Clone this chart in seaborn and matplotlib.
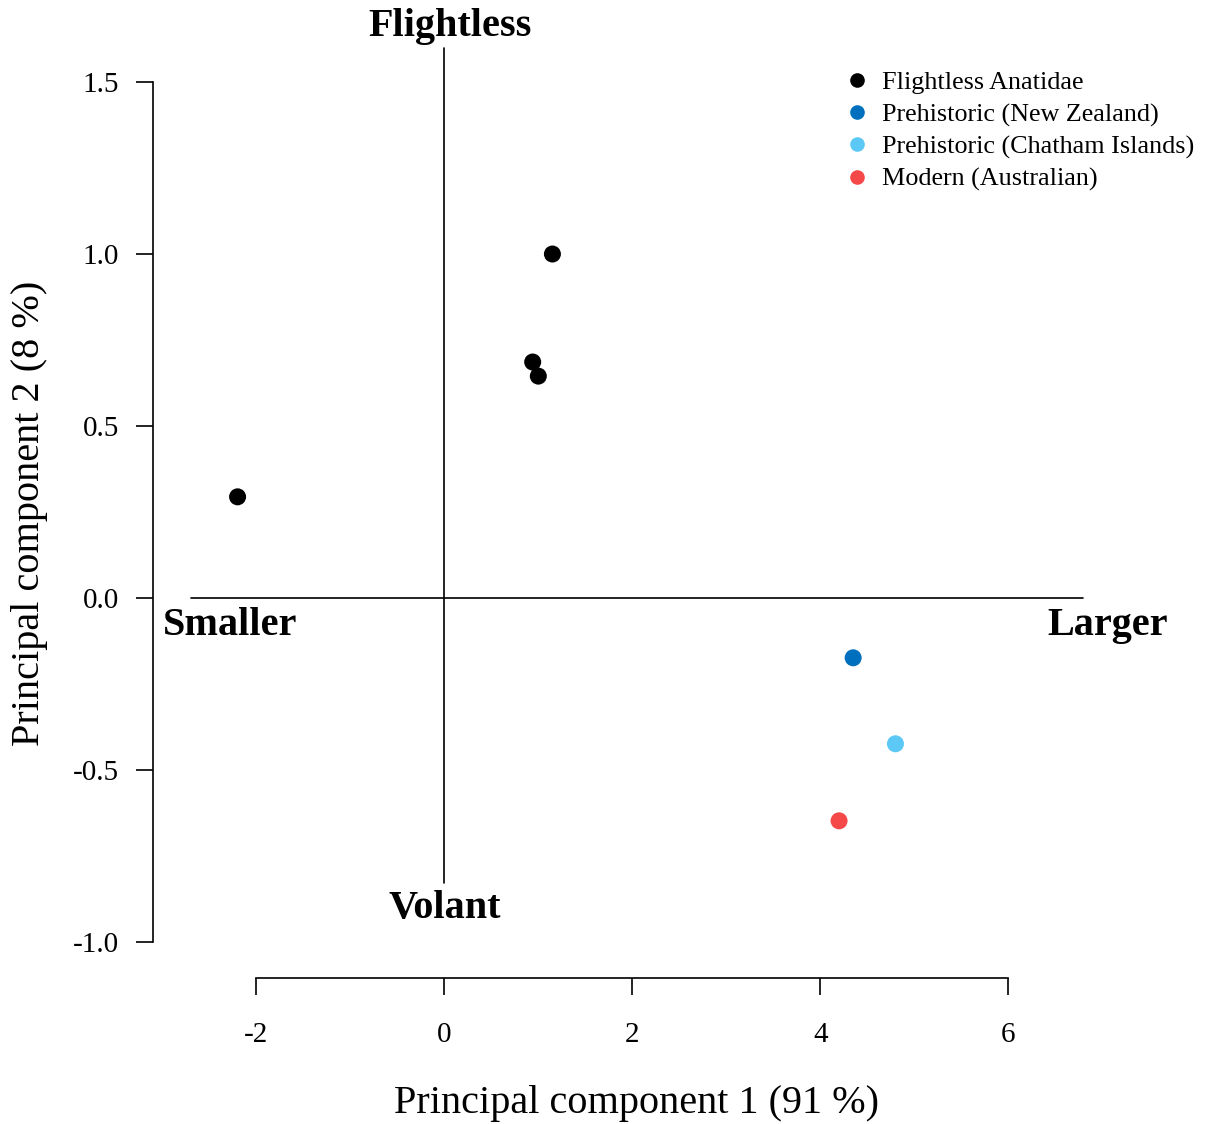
import matplotlib
matplotlib.use("Agg")
import matplotlib.pyplot as plt
import pandas as pd
import seaborn as sns

# data
groups = ["Flightless Anatidae", "Flightless Anatidae", "Flightless Anatidae",
          "Flightless Anatidae", "Prehistoric (New Zealand)",
          "Prehistoric (Chatham Islands)", "Modern (Australian)"]
pc1 = [-2.20, 1.15, 0.94, 1.00, 4.35, 4.80, 4.20]
pc2 = [0.294, 1.00, 0.686, 0.645, -0.174, -0.424, -0.648]

group_order = ["Flightless Anatidae", "Prehistoric (New Zealand)",
               "Prehistoric (Chatham Islands)", "Modern (Australian)"]
group_colors = ["#000000", "#0070BE", "#5BC8F5", "#F54848"]

df = pd.DataFrame({"PC1": pc1, "PC2": pc2, "Group": groups})

sns.set_style("white")
plt.rcParams["font.family"] = ["Liberation Serif", "DejaVu Serif"]
plt.rcParams["text.color"] = "black"
plt.rcParams["axes.labelcolor"] = "black"

W, H = 1206, 1124
fig = plt.figure(figsize=(W / 100, H / 100), dpi=100)
# plot region in pixels: left 153, right 1121, bottom 978, top 48
ax = fig.add_axes([153 / W, (H - 978) / H, (1121 - 153) / W, (978 - 48) / H])

sns.scatterplot(data=df, x="PC1", y="PC2", hue="Group", hue_order=group_order,
                palette=group_colors, s=150, edgecolor="none", ax=ax,
                legend=False, zorder=3)

ax.set_xlim(-3.10, 7.20)
ax.set_ylim(-1.105, 1.599)

# quadrant lines
ax.plot([-2.70, 6.80], [0, 0], color="black", lw=1.2, zorder=1, clip_on=False)
ax.plot([0, 0], [-0.83, 1.60], color="black", lw=1.2, zorder=1, clip_on=False)

bold = dict(fontsize=29, fontweight="bold", ha="center", va="center",
            color="black")
ax.text(0.06, 1.662, "Flightless", **bold)
ax.text(0.0, -0.904, "Volant", **bold)
ax.text(-2.28, -0.08, "Smaller", **bold)
ax.text(7.06, -0.08, "Larger", **bold)

# R-style detached axes
for side in ["top", "right"]:
    ax.spines[side].set_visible(False)
for side in ["left", "bottom"]:
    ax.spines[side].set_visible(True)
    ax.spines[side].set_color("black")
    ax.spines[side].set_linewidth(1.2)
ax.spines["left"].set_bounds(-1.0, 1.5)
ax.spines["bottom"].set_bounds(-2, 6)
ax.set_xticks([-2, 0, 2, 4, 6])
ax.set_xticklabels(["-2", "0", "2", "4", "6"])
ax.set_yticks([-1.0, -0.5, 0.0, 0.5, 1.0, 1.5])
ax.set_yticklabels(["-1.0", "-0.5", "0.0", "0.5", "1.0", "1.5"])
ax.tick_params(axis="both", direction="out", length=12.5, width=1.2,
               labelsize=21, color="black", labelcolor="black",
               left=True, bottom=True)
ax.tick_params(axis="x", pad=19)
ax.tick_params(axis="y", pad=12)
ax.grid(False)

ax.set_xlabel("Principal component 1 (91 %)", fontsize=29)
ax.set_ylabel("Principal component 2 (8 %)", fontsize=29)
ax.xaxis.label.set_va("center")
ax.yaxis.label.set_va("center")
ax.xaxis.set_label_coords(0.5, (978 - 1103) / (978 - 48))
ax.yaxis.set_label_coords((29 - 153) / (1121 - 153), 0.5)

handles = [plt.Line2D([], [], marker="o", ls="", markersize=10.5,
                      markerfacecolor=c, markeredgecolor="none")
           for c in group_colors]
ax.legend(handles, group_order, loc="upper left", frameon=False,
          fontsize=18.8, labelspacing=0.33, handletextpad=0.46,
          handlelength=1.0, borderaxespad=0.0, borderpad=0.0,
          bbox_to_anchor=(844 / W, 1 - 71 / H),
          bbox_transform=fig.transFigure)

fig.savefig("out.png", dpi=100)
